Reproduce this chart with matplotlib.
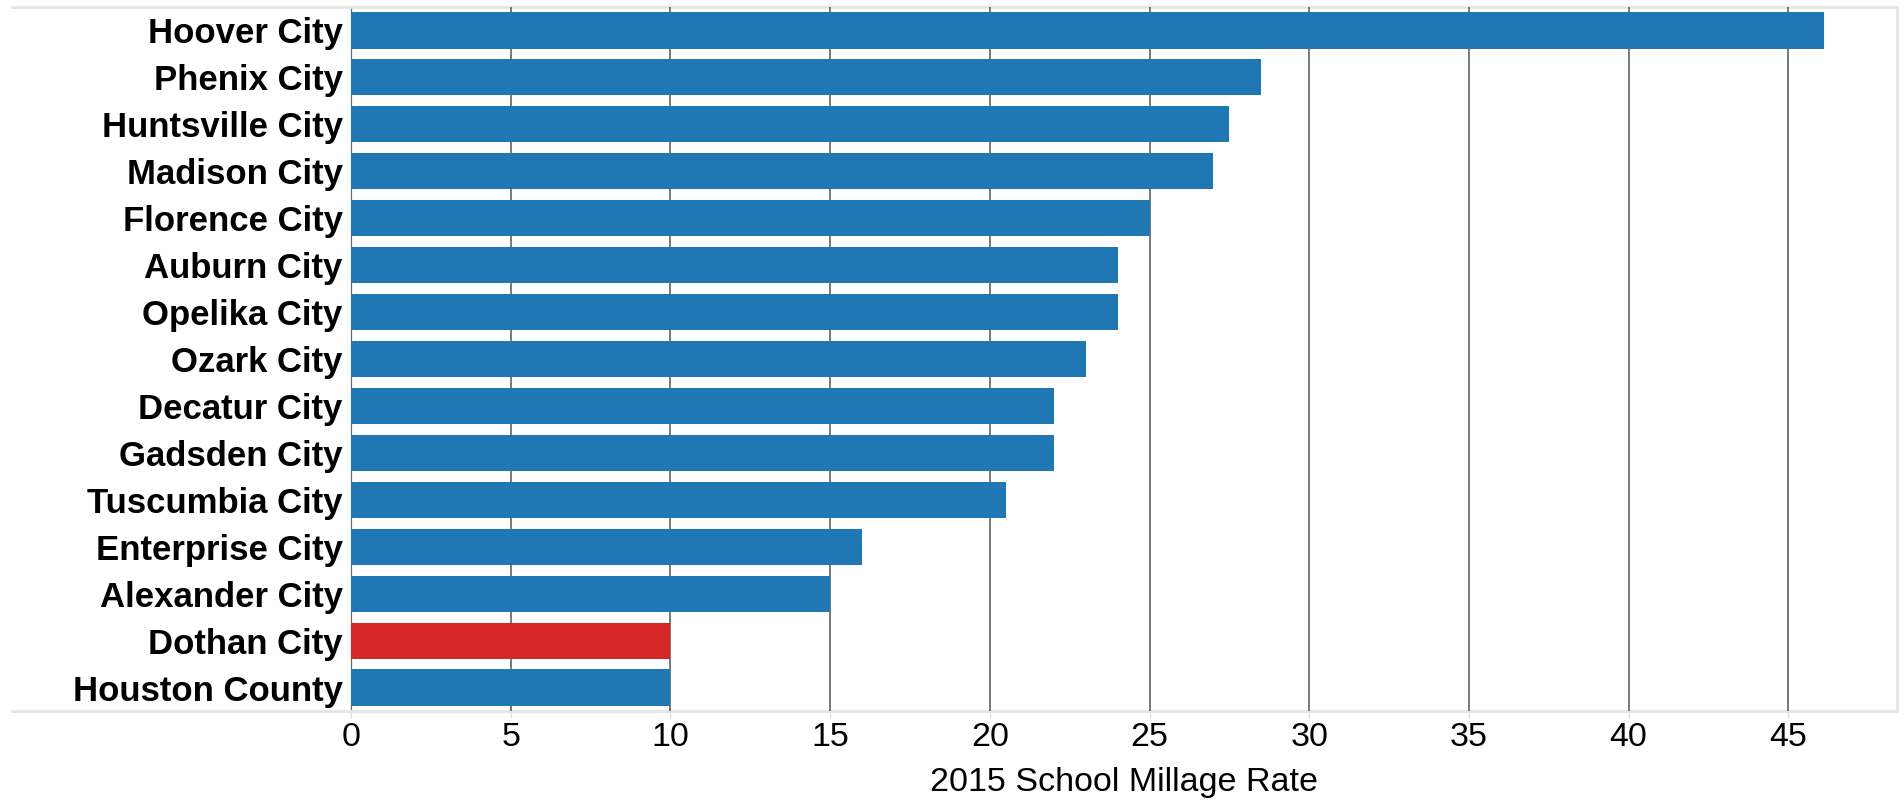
import matplotlib
matplotlib.use("Agg")
import matplotlib.pyplot as plt
from matplotlib.lines import Line2D

districts = ["Hoover City", "Phenix City", "Huntsville City", "Madison City",
             "Florence City", "Auburn City", "Opelika City", "Ozark City",
             "Decatur City", "Gadsden City", "Tuscumbia City", "Enterprise City",
             "Alexander City", "Dothan City", "Houston County"]
millage = [46.1, 28.5, 27.5, 27.0, 25.0, 24.0, 24.0, 23.0, 22.0, 22.0, 20.5, 16.0, 15.0, 10.0, 10.0]
highlight = "Dothan City"
xticks = [0, 5, 10, 15, 20, 25, 30, 35, 40, 45]

plt.rcParams['font.family'] = ['Liberation Sans', 'DejaVu Sans']

fig = plt.figure(figsize=(19.04, 8.01), dpi=100)
ax = fig.add_axes([351/1904, 1 - 711/801, (1897-351)/1904, (711-7)/801])

colors = ["#d62728" if d == highlight else "#1f77b4" for d in districts]
ypos = list(range(len(districts)))
ax.barh(ypos, millage, height=0.77, color=colors, zorder=3)
ax.set_ylim(len(districts) - 0.5, -0.5)
ax.set_xlim(0, 48.4)
ax.set_yticks(ypos)
ax.set_yticklabels(districts, fontsize=25, fontweight='bold')
ax.set_xticks(xticks)
ax.set_xticklabels([str(t) for t in xticks], fontsize=24.5)
ax.set_xlabel("2015 School Millage Rate", fontsize=24.5, labelpad=10)
ax.tick_params(axis='y', length=0, pad=6)
ax.tick_params(axis='x', length=5, width=1, color='#e0e0e0', pad=3)
ax.grid(axis='x', color='#555555', linewidth=1.1, zorder=2)
ax.set_axisbelow(False)

for s in ['top', 'bottom', 'right']:
    ax.spines[s].set_color('#e5e5e5')
    ax.spines[s].set_linewidth(2)
ax.spines['left'].set_color('#aaaaaa')
ax.spines['left'].set_linewidth(1)

# extended frame lines across the label area
for yf in [1 - 7/801, 1 - 711/801]:
    fig.add_artist(Line2D([12/1904, 351/1904], [yf, yf], transform=fig.transFigure,
                          color='#e5e5e5', linewidth=2))

fig.savefig("out.png", dpi=100)
